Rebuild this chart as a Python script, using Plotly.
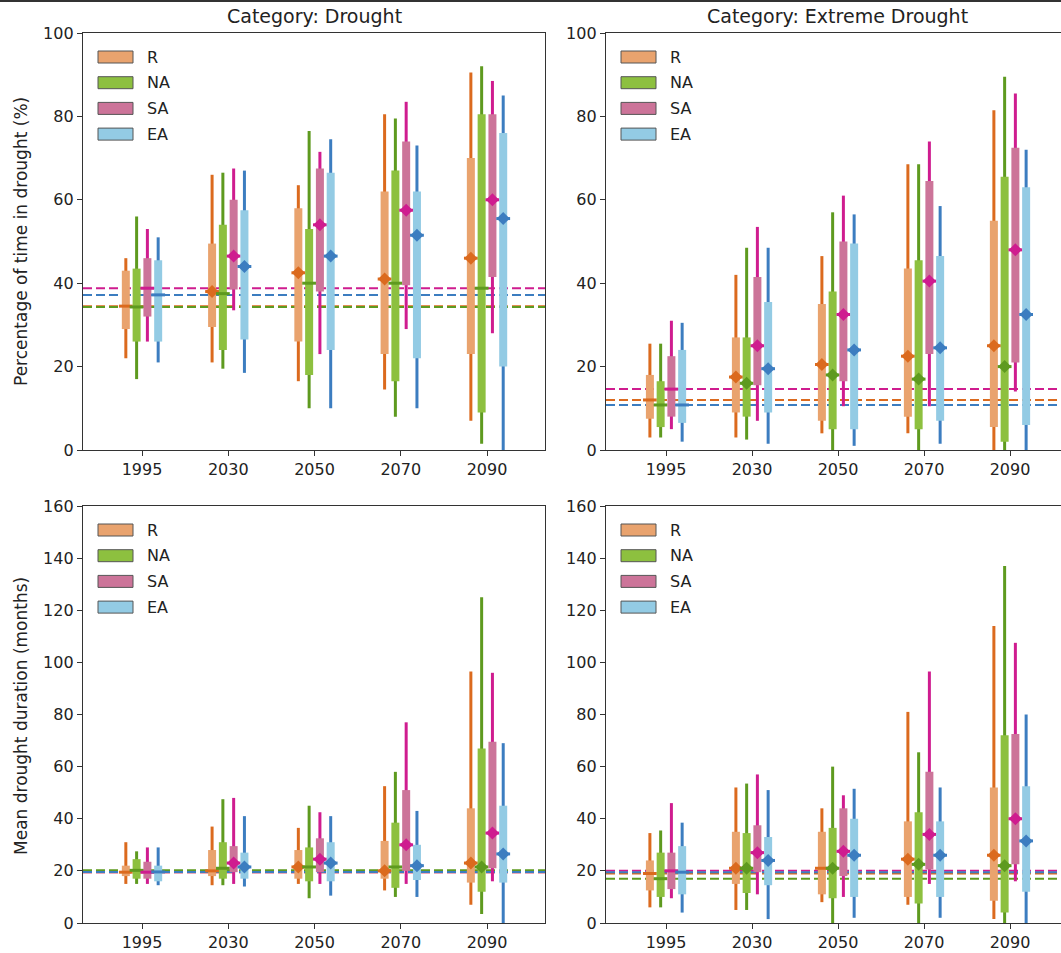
import plotly.graph_objects as go

# ---- categories ----
years = ["1995", "2030", "2050", "2070", "2090"]
regions = ["R", "NA", "SA", "EA"]

# ---- panel 1: percentage of time in drought (Drought) ----
p1_wmin = {"R": [22, 21, 16.5, 14.5, 7], "NA": [17, 19.5, 10, 8, 1.5],
           "SA": [26, 33.5, 23, 29, 28], "EA": [21, 18.5, 10, 10, 0]}
p1_wmax = {"R": [46, 66, 63.5, 80.5, 90.5], "NA": [56, 66.5, 76.5, 79.5, 92],
           "SA": [53, 67.5, 71.5, 83.5, 88.5], "EA": [51, 67, 74.5, 73, 85]}
p1_qlo = {"R": [29, 29.5, 26, 23, 23], "NA": [26, 24, 18, 16.5, 9],
          "SA": [32, 38.5, 38, 39.5, 41.5], "EA": [26, 26.5, 24, 22, 20]}
p1_qhi = {"R": [43, 49.5, 58, 62, 70], "NA": [43.5, 54, 53, 67, 80.5],
          "SA": [46, 60, 67.5, 74, 80.5], "EA": [45.5, 57.5, 66.5, 62, 76]}
p1_med = {"R": [34.5, 38, 42.5, 41, 46], "NA": [34.3, 37.5, 40, 40, 38.8],
          "SA": [38.8, 46.5, 54, 57.5, 60], "EA": [37.2, 44, 46.5, 51.5, 55.5]}
p1_sig = {"R": [0, 1, 1, 1, 1], "NA": [0, 0, 0, 0, 0],
          "SA": [0, 1, 1, 1, 1], "EA": [0, 1, 1, 1, 1]}

# ---- panel 2: percentage of time in drought (Extreme Drought) ----
p2_wmin = {"R": [3, 3, 4, 4, 0], "NA": [3, 2.5, 0, 0, 0],
           "SA": [5, 7, 10.5, 10.5, 14], "EA": [2, 1.5, 1, 1.5, 0]}
p2_wmax = {"R": [25.5, 42, 46.5, 68.5, 81.5], "NA": [25.5, 48.5, 57, 68.5, 89.5],
           "SA": [31, 53.5, 61, 74, 85.5], "EA": [30.5, 48.5, 56.5, 58.5, 72]}
p2_qlo = {"R": [7.5, 9, 7, 8, 5.5], "NA": [5.5, 8, 5, 5, 2],
          "SA": [8, 15.5, 16.5, 23, 21], "EA": [6.5, 9, 5, 7, 6]}
p2_qhi = {"R": [18, 27, 35, 43.5, 55], "NA": [16.5, 27, 38, 45.5, 65.5],
          "SA": [22.5, 41.5, 50, 64.5, 72.5], "EA": [24, 35.5, 49.5, 46.5, 63]}
p2_med = {"R": [12, 17.5, 20.5, 22.5, 25], "NA": [10.8, 16, 18, 17, 20],
          "SA": [14.6, 25, 32.5, 40.5, 48], "EA": [10.8, 19.5, 24, 24.5, 32.5]}
p2_sig = {"R": [0, 1, 1, 1, 1], "NA": [0, 1, 1, 1, 1],
          "SA": [0, 1, 1, 1, 1], "EA": [0, 1, 1, 1, 1]}

# ---- panel 3: mean drought duration (Drought) ----
p3_wmin = {"R": [15, 14.5, 15, 12.5, 7], "NA": [15, 14.5, 9.5, 10, 3.5],
           "SA": [15, 15, 15, 15, 16], "EA": [14.5, 14, 10.5, 10, 0]}
p3_wmax = {"R": [31, 37, 36.5, 52.5, 96.5], "NA": [27.5, 47.5, 45, 58, 125],
           "SA": [29, 48, 42.5, 77, 96], "EA": [29, 41, 41, 43, 69]}
p3_qlo = {"R": [18, 18, 17, 17, 15.5], "NA": [17, 17, 16, 13.5, 12],
          "SA": [17, 19.5, 19.5, 20, 21], "EA": [16, 17, 16, 16.5, 15.5]}
p3_qhi = {"R": [22, 28, 28, 31.5, 44], "NA": [24.5, 31, 29, 38.5, 67],
          "SA": [23.5, 29.5, 32.5, 51, 69.5], "EA": [22, 27, 31, 30, 45]}
p3_med = {"R": [19.5, 20, 21.5, 20, 23], "NA": [20.2, 21, 21.5, 21.5, 21.5],
          "SA": [19.5, 23, 24.5, 30, 34.5], "EA": [19.6, 21.5, 23, 22, 26.5]}
p3_sig = {"R": [0, 0, 1, 1, 1], "NA": [0, 0, 0, 0, 1],
          "SA": [0, 1, 1, 1, 1], "EA": [0, 1, 1, 1, 1]}

# ---- panel 4: mean drought duration (Extreme Drought) ----
p4_wmin = {"R": [6, 5, 8, 7, 1.5], "NA": [6, 5, 0, 0, 0],
           "SA": [9.5, 11, 10, 15, 16], "EA": [4, 1.5, 2, 2, 0]}
p4_wmax = {"R": [34.5, 52, 44, 81, 114], "NA": [35.5, 53.5, 60, 65.5, 137],
           "SA": [46, 57, 49, 96.5, 107.5], "EA": [38.5, 51, 51.5, 52, 80]}
p4_qlo = {"R": [12.5, 15, 11, 10, 8.5], "NA": [10, 11.5, 9.5, 7.5, 4],
          "SA": [13, 19.5, 18, 20.5, 22.5], "EA": [11, 14.5, 10, 10, 12]}
p4_qhi = {"R": [24, 35, 35, 39, 52], "NA": [27, 34.5, 36.5, 42.5, 72],
          "SA": [27, 37.5, 44, 58, 72.5], "EA": [29.5, 33, 40, 39, 52.5]}
p4_med = {"R": [19, 21, 21, 24.5, 26], "NA": [17, 21, 21, 22.5, 22],
          "SA": [20, 27, 27.5, 34, 40], "EA": [19.5, 24, 26, 26, 31.5]}
p4_sig = {"R": [0, 1, 0, 1, 1], "NA": [0, 1, 1, 1, 1],
          "SA": [0, 1, 1, 1, 1], "EA": [0, 1, 1, 1, 1]}

# ---- styling ----
dark = {"R": "#DB6A1E", "NA": "#5E9A1F", "SA": "#CF1C8F", "EA": "#3C7DC0"}
light = {"R": "#E9A36E", "NA": "#8DC03F", "SA": "#CC7499", "EA": "#93CBE4"}
offsets = {"R": -0.1875, "NA": -0.0625, "SA": 0.0625, "EA": 0.1875}
HALF_MED = 0.08
FONT = "DejaVu Sans"
TXT = "#222222"

W, H = 1061, 953


def px(x):
    return x / W


def py(y):
    return 1 - y / H


panels = [
    dict(n=1, wmin=p1_wmin, wmax=p1_wmax, qlo=p1_qlo, qhi=p1_qhi, med=p1_med, sig=p1_sig,
         left=83, right=545, top=33, bottom=450, xr=[-0.684, 4.672], yr=[0, 100], yt=list(range(0, 101, 20))),
    dict(n=2, wmin=p2_wmin, wmax=p2_wmax, qlo=p2_qlo, qhi=p2_qhi, med=p2_med, sig=p2_sig,
         left=606, right=1061, top=33, bottom=450, xr=[-0.698, 4.593], yr=[0, 100], yt=list(range(0, 101, 20))),
    dict(n=3, wmin=p3_wmin, wmax=p3_wmax, qlo=p3_qlo, qhi=p3_qhi, med=p3_med, sig=p3_sig,
         left=83, right=545, top=506, bottom=923, xr=[-0.684, 4.672], yr=[0, 160], yt=list(range(0, 161, 20))),
    dict(n=4, wmin=p4_wmin, wmax=p4_wmax, qlo=p4_qlo, qhi=p4_qhi, med=p4_med, sig=p4_sig,
         left=606, right=1061, top=506, bottom=923, xr=[-0.698, 4.593], yr=[0, 160], yt=list(range(0, 161, 20))),
]

fig = go.Figure()
shapes = []
annotations = []

for p in panels:
    n = p["n"]
    xa = "x" if n == 1 else f"x{n}"
    ya = "y" if n == 1 else f"y{n}"
    idx = list(range(len(years)))

    # baseline (1995 median) dashed lines, drawn beneath the data
    for r in regions:
        shapes.append(dict(type="line", xref=f"{xa} domain", yref=ya, x0=0, x1=1,
                           y0=p["med"][r][0], y1=p["med"][r][0], layer="below",
                           line=dict(color=dark[r], width=2, dash="9px,4px")))

    for r in regions:
        xs = [i + offsets[r] for i in idx]
        # whiskers: full range
        wx, wy = [], []
        for x, lo, hi in zip(xs, p["wmin"][r], p["wmax"][r]):
            wx += [x, x, None]
            wy += [lo, hi, None]
        fig.add_trace(go.Scatter(x=wx, y=wy, mode="lines", xaxis=xa, yaxis=ya,
                                 line=dict(color=dark[r], width=3), showlegend=False, hoverinfo="skip"))
        # boxes: inter-quartile range
        bx, by = [], []
        for x, lo, hi in zip(xs, p["qlo"][r], p["qhi"][r]):
            bx += [x, x, None]
            by += [lo, hi, None]
        fig.add_trace(go.Scatter(x=bx, y=by, mode="lines", xaxis=xa, yaxis=ya,
                                 line=dict(color=light[r], width=8), showlegend=False, hoverinfo="skip"))
        # median ticks
        mx, my = [], []
        for x, m in zip(xs, p["med"][r]):
            mx += [x - HALF_MED, x + HALF_MED, None]
            my += [m, m, None]
        fig.add_trace(go.Scatter(x=mx, y=my, mode="lines", xaxis=xa, yaxis=ya,
                                 line=dict(color=dark[r], width=3), showlegend=False, hoverinfo="skip"))
        # significant changes get a diamond
        dx = [x for x, s in zip(xs, p["sig"][r]) if s]
        dy = [m for m, s in zip(p["med"][r], p["sig"][r]) if s]
        if dx:
            fig.add_trace(go.Scatter(x=dx, y=dy, mode="markers", xaxis=xa, yaxis=ya,
                                     marker=dict(symbol="diamond", size=10, color=dark[r], line=dict(width=0)),
                                     showlegend=False, hoverinfo="skip"))

    # legend drawn as patches + labels in the upper-left corner
    for k, r in enumerate(regions):
        cy = p["top"] + 24 + k * 25.7
        shapes.append(dict(type="rect", xref="paper", yref="paper",
                           x0=px(p["left"] + 15), x1=px(p["left"] + 50),
                           y0=py(cy + 6), y1=py(cy - 6),
                           fillcolor=light[r], line=dict(color="#555555", width=1)))
        annotations.append(dict(xref="paper", yref="paper", x=px(p["left"] + 62), y=py(cy),
                                text=r, showarrow=False, xanchor="left", yanchor="middle",
                                font=dict(family=FONT, size=16, color=TXT)))

    axis_common = dict(showgrid=False, zeroline=False, showline=True, linecolor="#333333",
                       linewidth=1.3, ticks="outside", ticklen=5, tickwidth=1.2, tickcolor="#333333",
                       automargin=False,
                       tickfont=dict(family=FONT, size=16, color=TXT))
    fig.update_layout(**{
        ("xaxis" if n == 1 else f"xaxis{n}"): dict(
            domain=[px(p["left"]), px(p["right"])], anchor=ya, range=p["xr"],
            tickvals=idx, ticktext=years, mirror=True, **axis_common),
        ("yaxis" if n == 1 else f"yaxis{n}"): dict(
            domain=[py(p["bottom"]), py(p["top"])], anchor=xa, range=p["yr"],
            tickvals=p["yt"], mirror=(n in (1, 3)), **axis_common),
    })

# column titles
annotations.append(dict(xref="paper", yref="paper", x=px(314), y=py(16), text="Category: Drought",
                        showarrow=False, xanchor="center", yanchor="middle",
                        font=dict(family=FONT, size=19, color=TXT)))
annotations.append(dict(xref="paper", yref="paper", x=px(837), y=py(16), text="Category: Extreme Drought",
                        showarrow=False, xanchor="center", yanchor="middle",
                        font=dict(family=FONT, size=19, color=TXT)))
# row labels
annotations.append(dict(xref="paper", yref="paper", x=px(21), y=py(242),
                        text="Percentage of time in drought (%)", textangle=-90, showarrow=False,
                        xanchor="center", yanchor="middle",
                        font=dict(family=FONT, size=17, color=TXT)))
annotations.append(dict(xref="paper", yref="paper", x=px(21), y=py(716),
                        text="Mean drought duration (months)", textangle=-90, showarrow=False,
                        xanchor="center", yanchor="middle",
                        font=dict(family=FONT, size=17, color=TXT)))

# thin frame line along the top edge
shapes.append(dict(type="line", xref="paper", yref="paper", x0=0, x1=1, y0=py(1), y1=py(1),
                   line=dict(color="#333333", width=2)))

fig.update_layout(template="none", width=W, height=H, margin=dict(l=0, r=0, t=0, b=0, autoexpand=False),
                  paper_bgcolor="white", plot_bgcolor="white", showlegend=False,
                  shapes=shapes, annotations=annotations)

fig.write_html("out.html")
